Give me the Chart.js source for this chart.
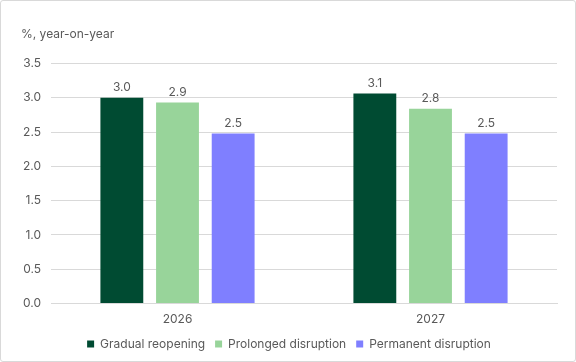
<!DOCTYPE html>
<html>
<head>
<meta charset="utf-8">
<script src="https://cdn.jsdelivr.net/npm/chart.js@4/dist/chart.umd.min.js"></script>
<style>
  html, body { margin: 0; padding: 0; background: #fff; }
  #wrap { position: relative; width: 574px; height: 360px; border: 1px solid #d9d9d9; border-radius: 3px; }
  canvas { display: block; }
</style>
</head>
<body>
<div id="wrap"><canvas id="chart1" width="574" height="360"></canvas></div>
<script>
// values
const years = ["2026", "2027"];
const gradual = [3.0, 3.06];
const prolonged = [2.93, 2.84];
const permanent = [2.48, 2.48];
const seriesNames = ["Gradual reopening", "Prolonged disruption", "Permanent disruption"];
const seriesColors = ["#004b32", "#98d49a", "#7f7fff"];

const textColor = "#595959";
Chart.defaults.font.family = "Inter, 'Noto Sans', sans-serif";
Chart.defaults.font.size = 12;
Chart.defaults.color = textColor;

// draw the value on top of each bar
const barLabels = {
  id: "barLabels",
  afterDatasetsDraw(chart) {
    const ctx = chart.ctx;
    ctx.save();
    ctx.font = "12px Inter, 'Noto Sans', sans-serif";
    ctx.fillStyle = textColor;
    ctx.textAlign = "center";
    ctx.textBaseline = "bottom";
    chart.data.datasets.forEach(function(ds, i) {
      chart.getDatasetMeta(i).data.forEach(function(bar, j) {
        ctx.fillText(ds.data[j].toFixed(1), bar.x, bar.y - 4);
      });
    });
    ctx.restore();
  }
};

new Chart(document.getElementById("chart1"), {
  type: "bar",
  data: {
    labels: years,
    datasets: [
      { label: seriesNames[0], data: gradual, backgroundColor: seriesColors[0] },
      { label: seriesNames[1], data: prolonged, backgroundColor: seriesColors[1] },
      { label: seriesNames[2], data: permanent, backgroundColor: seriesColors[2] }
    ]
  },
  options: {
    responsive: false,
    animation: false,
    datasets: { bar: { barPercentage: 0.77, categoryPercentage: 0.66 } },
    layout: { padding: { left: 20, right: 18, top: 26, bottom: 1 } },
    plugins: {
      title: {
        display: true,
        text: "%, year-on-year",
        align: "start",
        color: textColor,
        font: { size: 12, weight: "normal" },
        padding: { top: 0, bottom: 22 }
      },
      legend: {
        position: "bottom",
        labels: { boxWidth: 7, boxHeight: 7, padding: 10, color: textColor }
      },
      tooltip: { enabled: false }
    },
    scales: {
      y: {
        min: 0,
        max: 3.5,
        ticks: { stepSize: 0.5, padding: 10, callback: function(v) { return v.toFixed(1); } },
        grid: { color: "#d9d9d9", drawTicks: false },
        border: { display: false },
        afterFit: function(scale) { scale.width = 30; }
      },
      x: {
        ticks: { padding: 1 },
        grid: { display: false },
        border: { color: "#d9d9d9" }
      }
    }
  },
  plugins: [barLabels]
});
</script>
</body>
</html>
